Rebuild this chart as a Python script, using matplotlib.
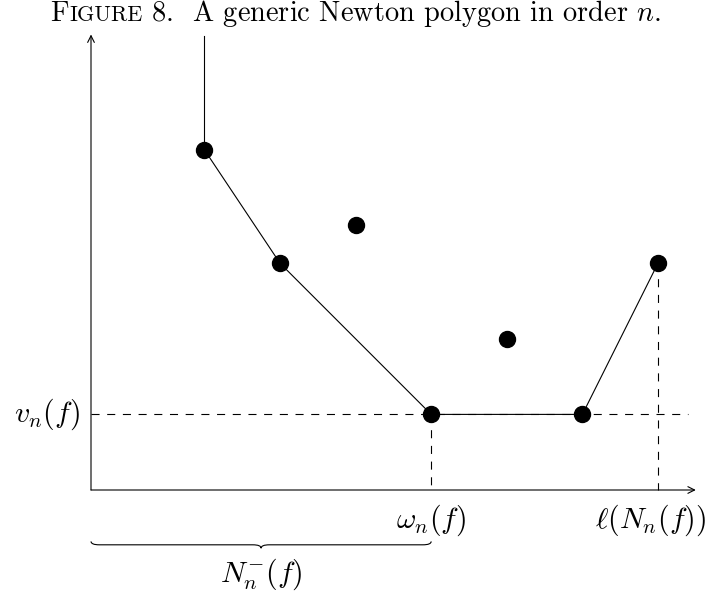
import matplotlib
matplotlib.use('Agg')
import matplotlib.pyplot as plt
from matplotlib.path import Path
from matplotlib.patches import PathPatch

plt.rcParams['mathtext.fontset'] = 'cm'
plt.rcParams['font.family'] = 'cmr10'
plt.rcParams['axes.unicode_minus'] = False
plt.rcParams['lines.scale_dashes'] = False

# points of the cloud (x = order, y = value)
pts_x = [3, 5, 7, 9, 11, 13, 15]
pts_y = [9, 6, 7, 2, 4, 2, 6]
# lower convex hull (the polygon)
hull_x = [3, 5, 9, 13, 15]
hull_y = [9, 6, 2, 2, 6]
ray_top = 12
omega = 9
length = 15
vn = 2
x_axis_end = 16
y_axis_end = 12.05
dash_end = 15.8

lbl_v = r'$v_n(f)$'
lbl_w = r'$\omega_n(f)$'
lbl_l = r'$\ell(N_n(f))$'
lbl_N = r'$N_n^{-}(f)$'

fig = plt.figure(figsize=(7.12, 5.93), dpi=100)
ax = fig.add_axes([0, 0, 1, 1])
u = 37.8
ax.set_xlim(-91 / u, (712 - 91) / u)
ax.set_ylim((490 - 593) / u, 490 / u)
ax.axis('off')

lw = 0.8
dash = (0, (5.8, 5.5))
arr = dict(arrowstyle='->', lw=lw, color='black', shrinkA=0, shrinkB=0,
           mutation_scale=12)
ax.annotate('', xy=(x_axis_end, 0), xytext=(0, 0), arrowprops=arr)
ax.annotate('', xy=(0, y_axis_end), xytext=(0, 0), arrowprops=arr)

# dashed guides
ax.plot([0, dash_end], [vn, vn], color='black', lw=lw, linestyle=dash)
ax.plot([omega, omega], [vn, 0], color='black', lw=lw, linestyle=dash)
ax.plot([length, length], [pts_y[-1], 0], color='black', lw=lw, linestyle=dash)

# polygon and ray
ax.plot([hull_x[0], hull_x[0]], [hull_y[0], ray_top], color='black', lw=lw)
ax.plot(hull_x, hull_y, color='black', lw=lw)
ax.plot(pts_x, pts_y, 'o', color='black', ms=11.5, zorder=5)

fs = 21.5
ax.text(-0.3, vn, lbl_v, fontsize=fs, ha='right', va='center')
ax.text(omega, -0.8, lbl_w, fontsize=fs, ha='center', va='center')
ax.text(length - 0.2, -0.8, lbl_l, fontsize=fs, ha='center', va='center')
ax.text(omega / 2, -2.24, lbl_N, fontsize=fs, ha='center', va='center')

# brace under [0, omega]
x0, x1 = 0, omega
xm = (x0 + x1) / 2
yt, ym, yb = -1.36, -1.45, -1.54
r = 0.22
verts = [(x0, yt), (x0, ym), (x0 + r, ym), (xm - r, ym), (xm, ym), (xm, yb),
         (xm, ym), (xm + r, ym), (x1 - r, ym), (x1, ym), (x1, yt)]
codes = [Path.MOVETO, Path.CURVE3, Path.CURVE3, Path.LINETO, Path.CURVE3, Path.CURVE3,
         Path.CURVE3, Path.CURVE3, Path.LINETO, Path.CURVE3, Path.CURVE3]
ax.add_patch(PathPatch(Path(verts, codes), fill=False, lw=lw, color='black'))

# title with small caps "Figure"
tfs = 20.4
pieces = [('F', tfs), ('IGURE', tfs * 0.78), (' 8.  A generic Newton polygon in order $n$.', tfs)]
fig.canvas.draw()
rend = fig.canvas.get_renderer()
objs = []
for s, size in pieces:
    t = fig.text(0, 0, s, fontsize=size, ha='left', va='baseline')
    objs.append(t)
widths = [t.get_window_extent(renderer=rend).width for t in objs]
total = sum(widths)
xpos = 356 - total / 2
for t, w in zip(objs, widths):
    t.set_position((xpos / 712, 1 - 21 / 593))
    xpos += w

fig.savefig('out.png', dpi=100)
